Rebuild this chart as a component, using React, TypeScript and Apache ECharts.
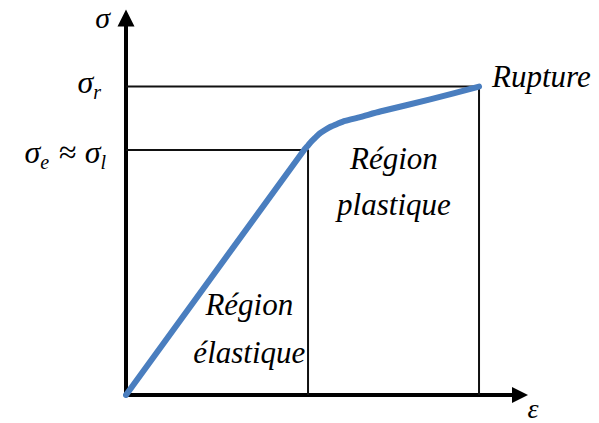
import React, { useEffect, useRef } from "react";
import * as echarts from "echarts";

// Strain (ε) and stress (σ) in normalised units (0–100 of the axes)
const curveStrain = [0, 45.2, 46.2, 47.2, 48.2, 49.2, 50.5, 51.8, 53.6, 55.6, 59.4, 64.5, 77.2, 89.6];
const curveStress = [0, 65.0, 66.2, 67.4, 68.4, 69.4, 70.3, 71.1, 71.9, 72.7, 73.7, 75.2, 78.4, 81.8];
const elasticLimit = { strain: 46.2, stress: 65.0 };
const rupture = { strain: 89.6, stress: 81.8 };
const yTickValues = [elasticLimit.stress, rupture.stress];
const yTickLabels = ["{s|σ}{sub|e}{m|≈}{s|σ}{sub|l}", "{s|σ}{sub|r}"];
const regionLabels = ["Région\nélastique", "Région\nplastique"];
const regionAnchors = [
  [31.3, 17.6],
  [68.0, 56.5],
];
const ruptureLabel = "Rupture";
const xAxisName = "ε";
const yAxisName = "σ";

const SERIF = "Liberation Serif";

export default function App() {
  const ref = useRef<HTMLDivElement>(null);
  useEffect(() => {
    if (!ref.current) return;
    const chart = echarts.init(ref.current, null, { renderer: "svg" });
    const curve = curveStrain.map((x, i) => [x, curveStress[i]]);
    chart.setOption({
      animation: false,
      backgroundColor: "#ffffff",
      grid: { left: 126, right: 79, top: 18, bottom: 28, outerBoundsMode: "none" },
      xAxis: {
        type: "value",
        min: 0,
        max: 100,
        axisLine: {
          show: true,
          symbol: ["none", "triangle"],
          symbolSize: [16, 16],
          lineStyle: { color: "#000", width: 4 },
        },
        axisTick: { show: false },
        axisLabel: { show: false },
        splitLine: { show: false },
      },
      yAxis: {
        type: "value",
        min: 0,
        max: 100,
        axisLine: {
          show: true,
          symbol: ["none", "triangle"],
          symbolSize: [17, 17],
          lineStyle: { color: "#000", width: 4 },
        },
        axisTick: { show: false },
        axisLabel: { show: false },
        splitLine: { show: false },
      },
      series: [
        {
          type: "line",
          data: [
            [0, rupture.stress],
            [rupture.strain, rupture.stress],
            [rupture.strain, 0],
          ],
          symbol: "none",
          lineStyle: { color: "#111", width: 2 },
          z: 1,
        },
        {
          type: "line",
          data: [
            [0, elasticLimit.stress],
            [elasticLimit.strain, elasticLimit.stress],
            [elasticLimit.strain, 0],
          ],
          symbol: "none",
          lineStyle: { color: "#111", width: 2 },
          z: 1,
        },
        {
          type: "line",
          data: curve,
          symbol: "none",
          smooth: 0.2,
          lineStyle: { color: "#4a7ebf", width: 6, cap: "round", join: "round" },
          z: 3,
        },
      ],
    });

    const px = (x: number, y: number) =>
      chart.convertToPixel({ gridIndex: 0 }, [x, y]) as number[];
    const origin = px(0, 0);
    const xEnd = px(100, 0);
    const yEnd = px(0, 100);
    const rupt = px(rupture.strain, rupture.stress);

    const base = { fontFamily: SERIF, fontStyle: "italic", fill: "#000" };
    const rich = {
      s: { fontFamily: SERIF, fontStyle: "italic", fontSize: 32, lineHeight: 40, fill: "#000" },
      m: { fontFamily: SERIF, fontStyle: "normal", fontSize: 32, lineHeight: 40, fill: "#000", padding: [0, 8, 0, 10] },
      sub: { fontFamily: SERIF, fontStyle: "italic", fontSize: 20, fill: "#000", verticalAlign: "bottom" },
    };
    const tickOffsets = [2, -5];
    const tickRight = [106, 101];

    const graphics: any[] = [];
    yTickValues.forEach((v, i) => {
      const p = px(0, v);
      graphics.push({
        type: "text",
        x: origin[0] - (126 - tickRight[i]),
        y: p[1] + tickOffsets[i],
        z: 10,
        style: { ...base, text: yTickLabels[i], rich, align: "right", verticalAlign: "middle" },
      });
    });
    graphics.push({
      type: "text",
      x: yEnd[0] - 16,
      y: yEnd[1] - 1,
      z: 10,
      style: { ...base, text: yAxisName, fontSize: 30, lineHeight: 30, align: "right", verticalAlign: "middle" },
    });
    graphics.push({
      type: "text",
      x: xEnd[0] + 13,
      y: xEnd[1] + 13,
      z: 10,
      style: { ...base, text: xAxisName, fontSize: 28, lineHeight: 22, align: "center", verticalAlign: "middle" },
    });
    regionLabels.forEach((t, i) => {
      const p = px(regionAnchors[i][0], regionAnchors[i][1]);
      graphics.push({
        type: "text",
        x: p[0],
        y: p[1],
        z: 10,
        style: { ...base, text: t, fontSize: 31, lineHeight: i === 0 ? 48 : 46, align: "center", verticalAlign: "middle" },
      });
    });
    graphics.push({
      type: "text",
      x: rupt[0] + 13,
      y: rupt[1] - 10.5,
      z: 10,
      style: { ...base, text: ruptureLabel, fontSize: 31, align: "left", verticalAlign: "middle" },
    });
    chart.setOption({ graphic: graphics });

    return () => chart.dispose();
  }, []);
  return (
    <div
      ref={ref}
      style={{ position: "fixed", left: 0, top: 0, width: 599, height: 423 }}
    />
  );
}
